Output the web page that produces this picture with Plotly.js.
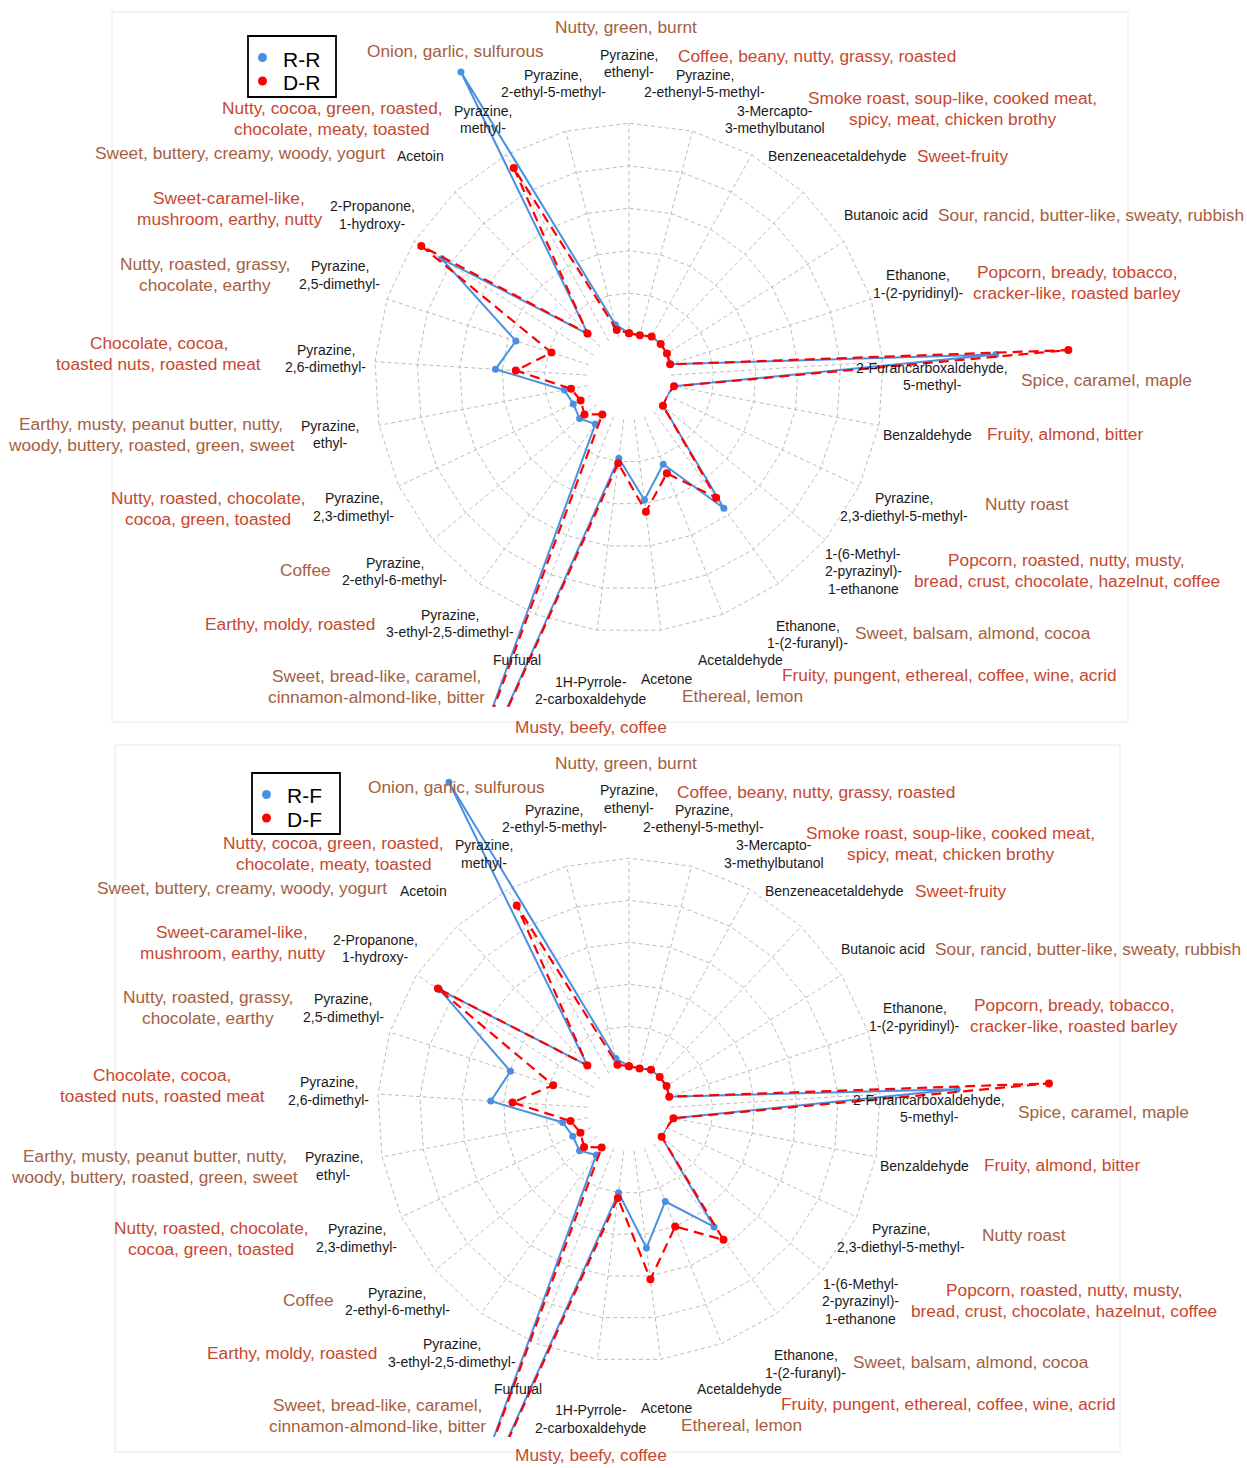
<!DOCTYPE html>
<html>
<head>
<meta charset="utf-8">
<script src="https://cdn.plot.ly/plotly-3.0.1.min.js"></script>
<style>
  html, body { margin: 0; padding: 0; background: #fff; }
  #page { position: relative; width: 1247px; height: 1468px; overflow: hidden; background: #fff; }
  .panel { position: absolute; left: 0; width: 1247px; overflow: hidden; }
  .plot { position: absolute; left: 0; top: -100px; width: 1247px; height: 960px; }
</style>
</head>
<body>
<div id="page">
  <div class="panel" style="top:0px;height:745px"><div id="radarTop" class="plot"></div></div>
  <div class="panel" style="top:734px;height:734px"><div id="radarBottom" class="plot"></div></div>
</div>
<script>
// Volatile compounds, clockwise from the top of each radar
const categories = [
  'Pyrazine, ethenyl-', 'Pyrazine, 2-ethenyl-5-methyl-', '3-Mercapto-3-methylbutanol',
  'Benzeneacetaldehyde', 'Butanoic acid', 'Ethanone, 1-(2-pyridinyl)-',
  '2-Furancarboxaldehyde, 5-methyl-', 'Benzaldehyde', 'Pyrazine, 2,3-diethyl-5-methyl-',
  '1-(6-Methyl-2-pyrazinyl)-1-ethanone', 'Ethanone, 1-(2-furanyl)-', 'Acetaldehyde',
  'Acetone', '1H-Pyrrole-2-carboxaldehyde', 'Furfural', 'Pyrazine, 3-ethyl-2,5-dimethyl-',
  'Pyrazine, 2-ethyl-6-methyl-', 'Pyrazine, 2,3-dimethyl-', 'Pyrazine, ethyl-',
  'Pyrazine, 2,6-dimethyl-', 'Pyrazine, 2,5-dimethyl-', '2-Propanone, 1-hydroxy-',
  'Acetoin', 'Pyrazine, methyl-', 'Pyrazine, 2-ethyl-5-methyl-'
];

// Compound names as printed around the radar (one entry per line)
const categoryLines = [
  ['Pyrazine,', 'ethenyl-'], ['Pyrazine,', '2-ethenyl-5-methyl-'], ['3-Mercapto-', '3-methylbutanol'],
  ['Benzeneacetaldehyde'], ['Butanoic acid'], ['Ethanone,', '1-(2-pyridinyl)-'],
  ['2-Furancarboxaldehyde,', '5-methyl-'], ['Benzaldehyde'], ['Pyrazine,', '2,3-diethyl-5-methyl-'],
  ['1-(6-Methyl-', '2-pyrazinyl)-', '1-ethanone'], ['Ethanone,', '1-(2-furanyl)-'], ['Acetaldehyde'],
  ['Acetone'], ['1H-Pyrrole-', '2-carboxaldehyde'], ['Furfural'], ['Pyrazine,', '3-ethyl-2,5-dimethyl-'],
  ['Pyrazine,', '2-ethyl-6-methyl-'], ['Pyrazine,', '2,3-dimethyl-'], ['Pyrazine,', 'ethyl-'],
  ['Pyrazine,', '2,6-dimethyl-'], ['Pyrazine,', '2,5-dimethyl-'], ['2-Propanone,', '1-hydroxy-'],
  ['Acetoin'], ['Pyrazine,', 'methyl-'], ['Pyrazine,', '2-ethyl-5-methyl-']
];

// Odour descriptors of each compound
const descriptorLines = [
  ['Nutty, green, burnt'],
  ['Coffee, beany, nutty, grassy, roasted'],
  ['Smoke roast, soup-like, cooked meat,', 'spicy, meat, chicken brothy'],
  ['Sweet-fruity'],
  ['Sour, rancid, butter-like, sweaty, rubbish'],
  ['Popcorn, bready, tobacco,', 'cracker-like, roasted barley'],
  ['Spice, caramel, maple'],
  ['Fruity, almond, bitter'],
  ['Nutty roast'],
  ['Popcorn, roasted, nutty, musty,', 'bread, crust, chocolate, hazelnut, coffee'],
  ['Sweet, balsam, almond, cocoa'],
  ['Fruity, pungent, ethereal, coffee, wine, acrid'],
  ['Ethereal, lemon'],
  ['Musty, beefy, coffee'],
  ['Sweet, bread-like, caramel,', 'cinnamon-almond-like, bitter'],
  ['Earthy, moldy, roasted'],
  ['Coffee'],
  ['Nutty, roasted, chocolate,', 'cocoa, green, toasted'],
  ['Earthy, musty, peanut butter, nutty,', 'woody, buttery, roasted, green, sweet'],
  ['Chocolate, cocoa,', 'toasted nuts, roasted meat'],
  ['Nutty, roasted, grassy,', 'chocolate, earthy'],
  ['Sweet-caramel-like,', 'mushroom, earthy, nutty'],
  ['Sweet, buttery, creamy, woody, yogurt'],
  ['Nutty, cocoa, green, roasted,', 'chocolate, meaty, toasted'],
  ['Onion, garlic, sulfurous']
];
const descriptorTone = [
  'brown', 'red', 'red', 'red', 'brown', 'red', 'brown', 'red', 'brown', 'red', 'brown', 'red', 'brown',
  'red', 'brown', 'red', 'brown', 'red', 'brown', 'red', 'brown', 'red', 'brown', 'red', 'brown'
];

// Series values (radial units)
const rrValues = [0.06, 0.04, 0.12, 0.10, 0.07, 0.03, 7.66, 0.09, 0.00, 0.05, 2.81, 1.20, 1.91,
                  0.92, 11.7, 0.36, 0.52, 0.46, 0.56, 2.16, 1.81, 4.23, 0.42, 7.22, 0.30];
const drValues = [0.06, 0.04, 0.12, 0.10, 0.07, 0.03, 9.37, 0.09, 0.00, 0.05, 2.50, 1.43, 2.19,
                  1.04, 11.8, 0.08, 0.37, 0.27, 0.40, 1.68, 0.93, 4.80, 0.44, 4.64, 0.17];
const rfValues = [0.05, 0.03, 0.10, 0.08, 0.07, 0.02, 6.84, 0.09, 0.00, 0.02, 2.46, 1.36, 2.33,
                  1.00, 11.7, 0.34, 0.54, 0.49, 0.62, 2.31, 1.98, 4.35, 0.46, 7.91, 0.27];
const dfValues = [0.05, 0.03, 0.10, 0.08, 0.07, 0.02, 9.03, 0.09, 0.00, 0.02, 2.84, 2.00, 3.08,
                  1.13, 11.8, 0.12, 0.40, 0.29, 0.43, 1.79, 0.91, 4.40, 0.46, 4.56, 0.12];

const gridRings = [1, 2, 3, 4, 5];

// ---- styling / geometry ----
const FONT = 'Liberation Sans, Arial, Helvetica, sans-serif';
const BLUE = '#4A90E2';
const RED = '#FF0000';
const GRID = '#BDBDBD';
const TONES = { red: '#C8472F', brown: '#A5603F' };
const NAME_SIZE = 14, NAME_LH = 17.5;
const DESC_SIZE = 17.3, DESC_LH = 21;
const W = 1247, H = 960, OFF = 100, R = 470;

// vertical nudges of some compound names (px)
const nameNudge = [-10, 0, 8, 0, 0, 0, 18, 0, 0, 0, 11, 0, 0, 11, 0, 0, 0, 0, 0, 0, -9, 0, 0, 8, 0];
// descriptor placement relative to the compound name block:
// 'R' gap to the right, 'L' gap to the left, 'C' centre shift, 'CL' left edge at name centre + shift
const descPlace = [
  ['C', -3, -37], ['CL', -27, -27], ['C', 177, -10.5], ['R', 11, 0], ['R', 10, 0],
  ['R', 10, -1], ['R', 13, 3], ['R', 15, -1], ['R', 17, -3], ['R', 12, -1],
  ['R', 7, -2], ['R', -1, 15], ['R', -11, 17], ['C', 0, 36.5], ['L', 8, 26],
  ['L', 11, 0], ['L', 11, -1], ['L', 8, 1], ['L', 7, 0], ['L', 24, -5],
  ['L', 9, 0], ['L', 8, -6.5], ['L', 13, -3], ['L', 11, -1], ['C', -98, -32]
];

const measureCtx = document.createElement('canvas').getContext('2d');
function textWidth(s, size) {
  measureCtx.font = size + 'px "Liberation Sans", Arial, sans-serif';
  return measureCtx.measureText(s).width;
}
function blockWidth(lines, size) {
  return Math.max.apply(null, lines.map(l => textWidth(l, size)));
}

function makeChart(divId, cfg) {
  const cx = cfg.cx, cy = cfg.cy + OFF;
  const s = cfg.scale;
  const rMax = (R - cfg.hole) / cfg.unit;
  const X = px => px / W;
  const Y = py => 1 - py / H;
  const closed = a => a.concat([a[0]]);
  const thetaClosed = closed(categories);

  const spokeR = [], spokeT = [];
  categories.forEach(c => { spokeR.push(0, gridRings[gridRings.length - 1], null); spokeT.push(c, c, null); });

  const traces = [
    { type: 'scatterpolar', r: spokeR, theta: spokeT, mode: 'lines', connectgaps: false,
      line: { color: GRID, width: 1, dash: '4px,3px' }, hoverinfo: 'skip', showlegend: false },
    { type: 'scatterpolar', name: cfg.names[0], r: closed(cfg.blue), theta: thetaClosed, mode: 'lines+markers',
      line: { color: BLUE, width: 2 }, marker: { color: BLUE, size: 7 }, cliponaxis: false,
      showlegend: false, hoverinfo: 'skip' },
    { type: 'scatterpolar', name: cfg.names[1], r: closed(cfg.red), theta: thetaClosed, mode: 'lines+markers',
      line: { color: RED, width: 2.2, dash: '10px,6px' }, marker: { color: RED, size: 8 }, cliponaxis: false,
      showlegend: false, hoverinfo: 'skip' }
  ];

  const annotations = [];
  const addLines = (lines, x, yc, size, lh, color) => {
    lines.forEach((line, i) => {
      const y = yc + (i - (lines.length - 1) / 2) * lh;
      annotations.push({ xref: 'paper', yref: 'paper', x: X(x), y: Y(y), text: line, showarrow: false,
        xanchor: 'center', yanchor: 'middle', font: { family: FONT, size: size, color: color } });
    });
  };

  categories.forEach((c, k) => {
    const ang = k * 2 * Math.PI / categories.length;
    const lx = cx + cfg.labelR * Math.sin(ang);
    const ly = cy - cfg.labelR * Math.cos(ang) + nameNudge[k] * s;
    const nameLines = categoryLines[k];
    const nW = blockWidth(nameLines, NAME_SIZE);
    addLines(nameLines, lx, ly, NAME_SIZE, NAME_LH, '#1A1A1A');

    const dLines = descriptorLines[k];
    const dW = blockWidth(dLines, DESC_SIZE);
    const [mode, a, dy] = descPlace[k];
    let dx;
    if (mode === 'R') dx = lx + nW / 2 + a + dW / 2;
    else if (mode === 'L') dx = lx - nW / 2 - a - dW / 2;
    else if (mode === 'CL') dx = lx + a + dW / 2;
    else dx = lx + a;
    addLines(dLines, dx, ly + dy * s, DESC_SIZE, DESC_LH, TONES[descriptorTone[k]]);
  });

  // legend box: frame, coloured dots and series names
  const [lgx, lgy] = cfg.legend;
  const dotR = 4.5;
  const legendRows = [{ name: cfg.names[0], color: BLUE, dy: 21.5 }, { name: cfg.names[1], color: RED, dy: 45 }];
  legendRows.forEach(row => {
    annotations.push({ xref: 'paper', yref: 'paper', x: X(lgx + 33), y: Y(lgy + OFF + row.dy + 1.5),
      text: row.name, showarrow: false, xanchor: 'left', yanchor: 'middle',
      font: { family: FONT, size: 21, color: '#000000' } });
  });

  const f = cfg.frame;
  const shapes = [
    { type: 'rect', xref: 'paper', yref: 'paper', x0: 0, x1: 1, y0: 0, y1: Y(cfg.clipY + OFF),
      fillcolor: '#FFFFFF', line: { width: 0 }, layer: 'above' },
    { type: 'rect', xref: 'paper', yref: 'paper', x0: X(f[0]), x1: X(f[2]), y0: Y(f[3] + OFF), y1: Y(f[1] + OFF),
      fillcolor: 'rgba(0,0,0,0)', line: { color: '#EAEAEA', width: 1 }, layer: 'above' },
    { type: 'rect', xref: 'paper', yref: 'paper', x0: X(lgx), x1: X(lgx + 88), y0: Y(lgy + OFF + 61), y1: Y(lgy + OFF),
      fillcolor: '#FFFFFF', line: { color: '#000000', width: 1.8 }, layer: 'above' }
  ];
  legendRows.forEach(row => {
    shapes.push({ type: 'circle', xref: 'paper', yref: 'paper',
      x0: X(lgx + 14.5 - dotR), x1: X(lgx + 14.5 + dotR),
      y0: Y(lgy + OFF + row.dy + dotR), y1: Y(lgy + OFF + row.dy - dotR),
      fillcolor: row.color, line: { width: 0 }, layer: 'above' });
  });

  const layout = {
    width: W, height: H,
    margin: { l: 0, r: 0, t: 0, b: 0 },
    paper_bgcolor: 'rgba(0,0,0,0)',
    font: { family: FONT },
    hovermode: false,
    showlegend: false,
    polar: {
      domain: { x: [X(cx - R), X(cx + R)], y: [Y(cy + R), Y(cy - R)] },
      hole: cfg.hole / R,
      gridshape: 'linear',
      bgcolor: 'rgba(0,0,0,0)',
      radialaxis: {
        range: [0, rMax], autorange: false, tickvals: gridRings, showticklabels: false, ticks: '',
        showline: false, showgrid: true, gridcolor: GRID, gridwidth: 1, griddash: '4px,3px'
      },
      angularaxis: {
        type: 'category', categoryorder: 'array', categoryarray: categories,
        rotation: 90, direction: 'clockwise',
        showgrid: false, showline: false, showticklabels: false, ticks: ''
      }
    },
    annotations: annotations,
    shapes: shapes
  };

  Plotly.newPlot(divId, traces, layout, { displayModeBar: false, staticPlot: true });
}

makeChart('radarTop', {
  cx: 629, cy: 377.7, hole: 42, unit: 42.5, labelR: 304, scale: 1, clipY: 707,
  legend: [248, 36], frame: [112, 12, 1128, 722],
  blue: rrValues, red: drValues, names: ['R-R', 'D-R']
});
makeChart('radarBottom', {
  cx: 629, cy: 375.8, hole: 41.5, unit: 42.0, labelR: 300.7, scale: 0.989, clipY: 703,
  legend: [252, 39], frame: [115, 11, 1120, 718],
  blue: rfValues, red: dfValues, names: ['R-F', 'D-F']
});
</script>
</body>
</html>
